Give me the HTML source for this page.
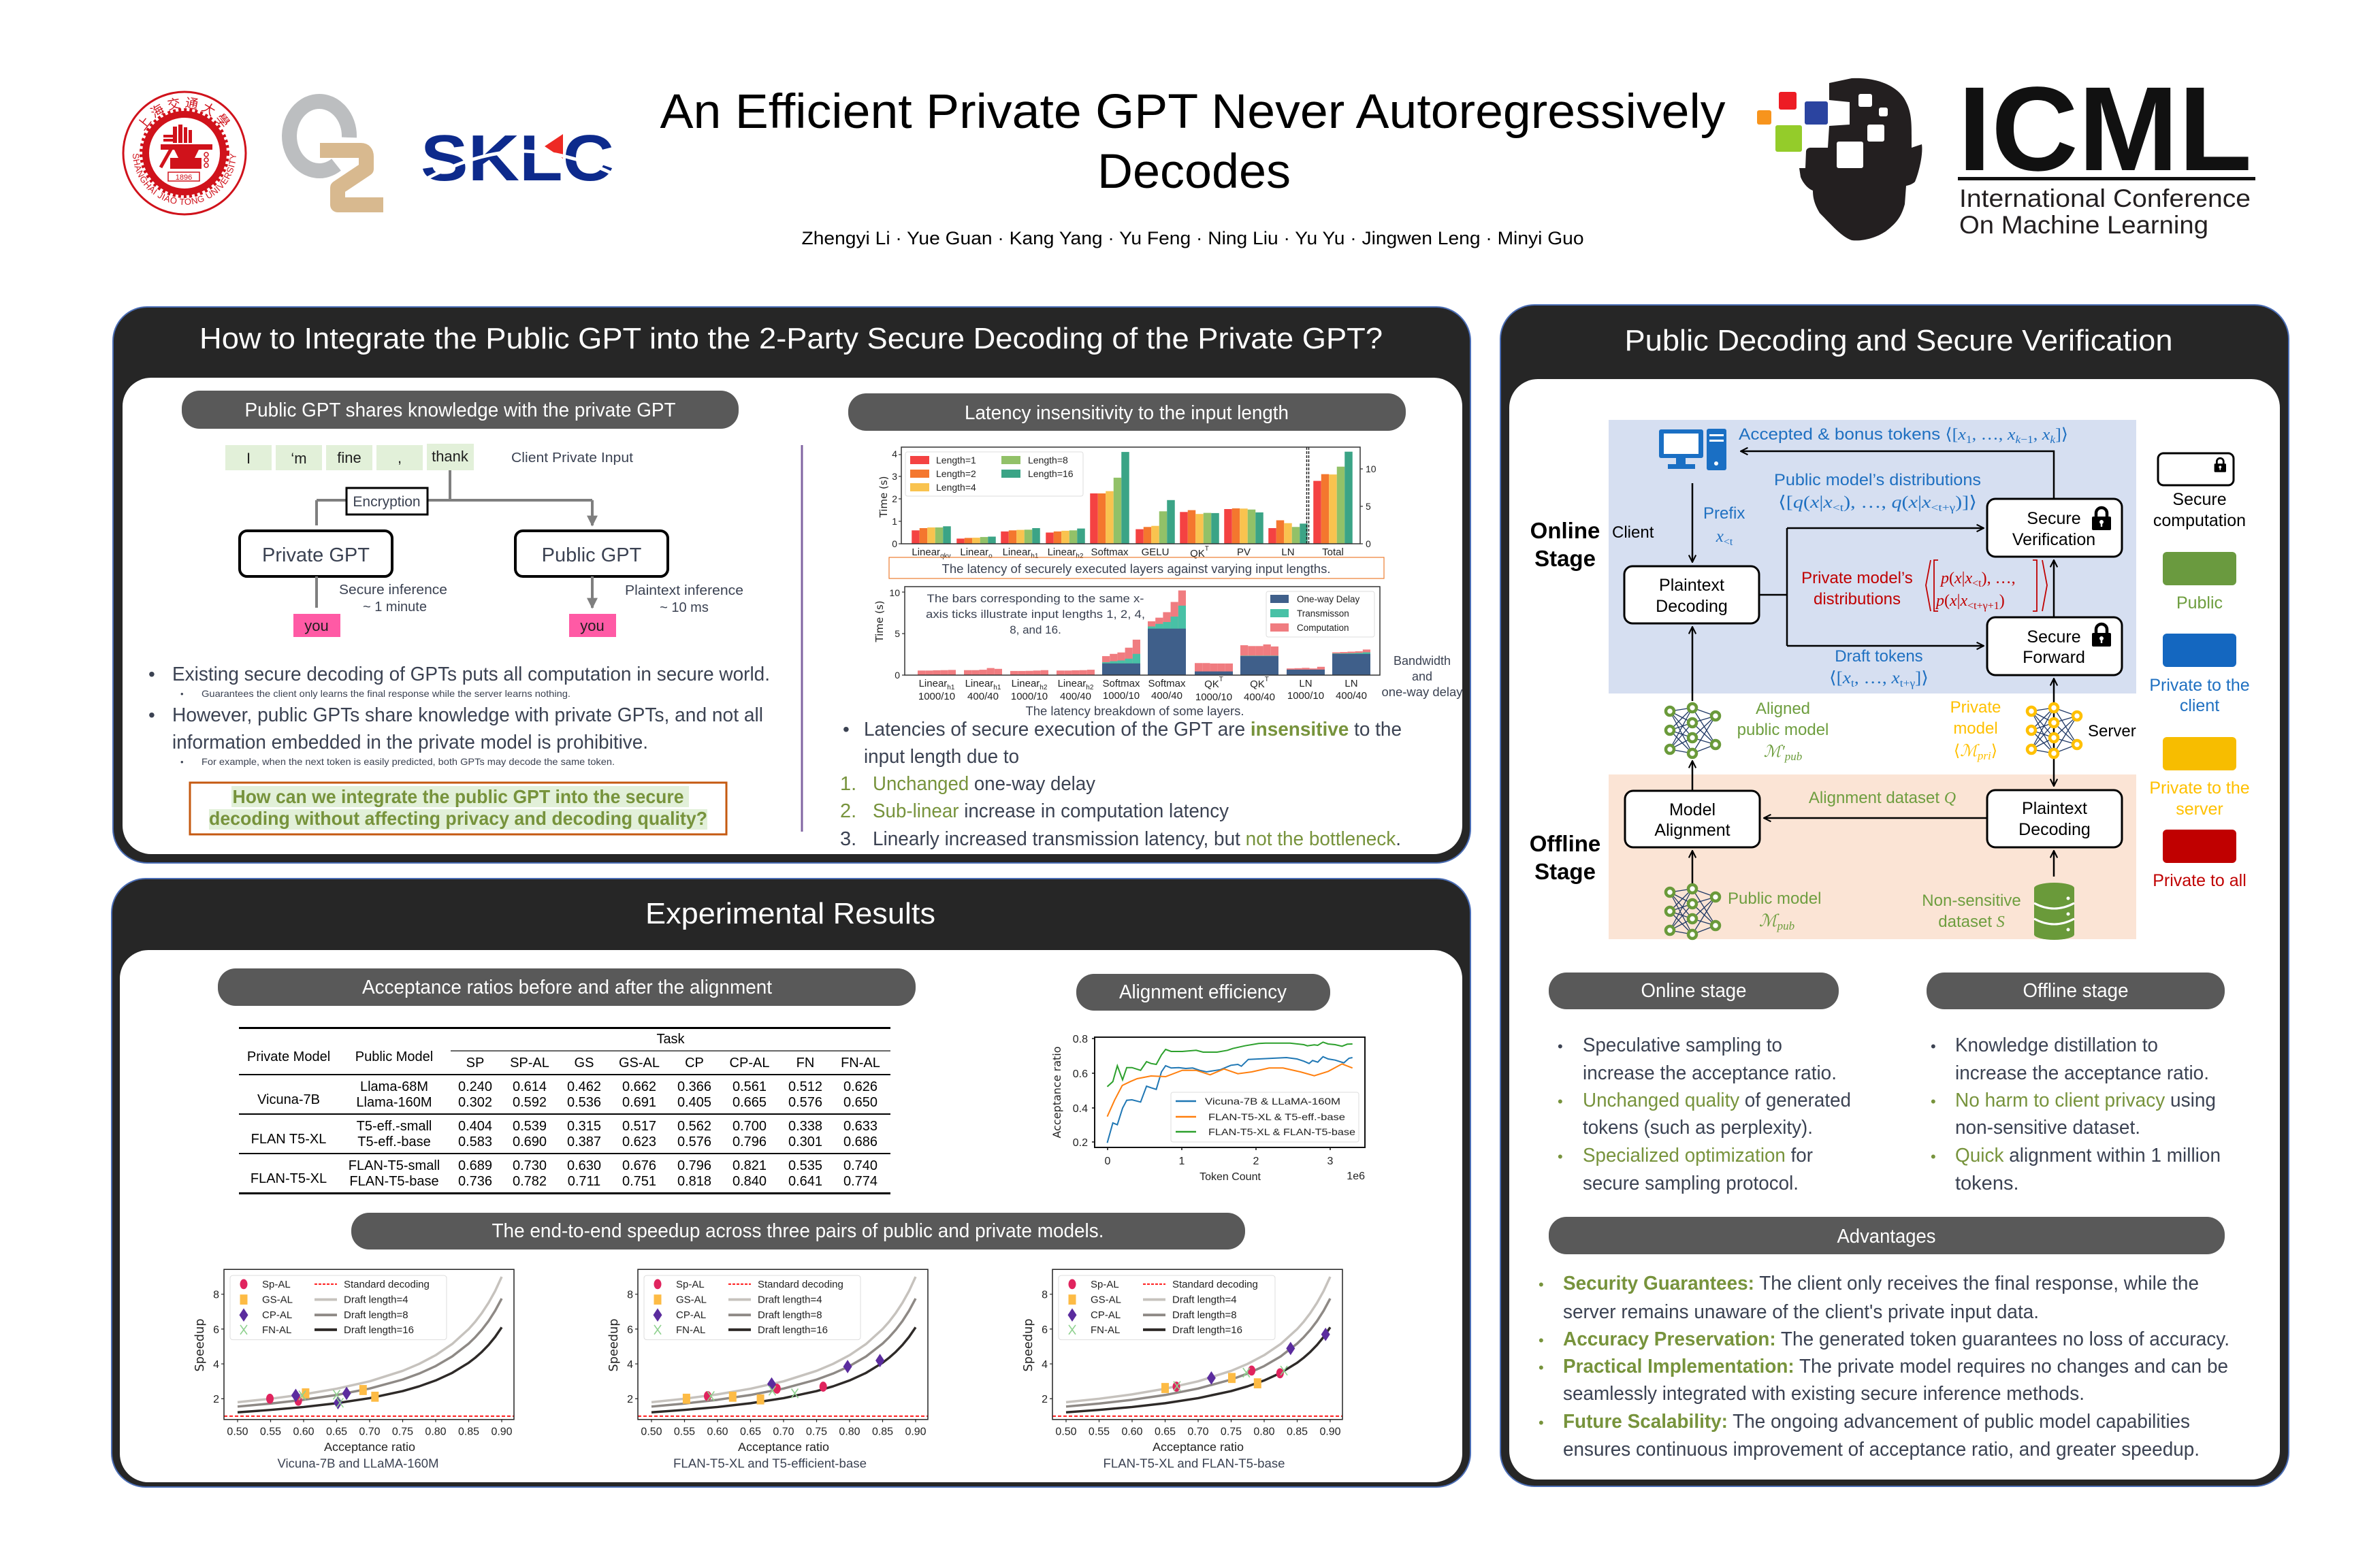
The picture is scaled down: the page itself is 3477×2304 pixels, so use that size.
<!DOCTYPE html>
<html><head><meta charset="utf-8">
<style>
html,body{margin:0;padding:0;background:#fff;}
svg{display:block;}
text{font-family:"Liberation Sans","DejaVu Sans",sans-serif;}
.s{font-family:"Liberation Serif","DejaVu Serif",serif;}
.d{font-family:"DejaVu Sans","Liberation Sans",sans-serif;}
.f1{fill:#f44242}.f2{fill:#f4772e}.f3{fill:#f9c34f}.f4{fill:#92c168}.f5{fill:#3ba486}
.pk{fill:#f07c80}.tl{fill:#48c1a6}.bl{fill:#3f5f8a}
.bt{fill:#3b4252}
.gr{fill:#77933c}
</style></head><body>
<svg xmlns="http://www.w3.org/2000/svg" xmlns:xlink="http://www.w3.org/1999/xlink" width="3477" height="2304" viewBox="0 0 3477 2304">
<defs>
<marker id="ab" viewBox="0 0 12 12" refX="11" refY="6" markerWidth="5" markerHeight="5" orient="auto-start-reverse"><path d="M1,1 L11,6 L1,11" fill="none" stroke="#000" stroke-width="2"/></marker>
<marker id="ag" viewBox="0 0 10 10" refX="9" refY="5" markerWidth="4" markerHeight="4" orient="auto"><path d="M0,0 L10,5 L0,10 Z" fill="#7f7f7f"/></marker>
<g id="nn">
<path d="M-33,5L0,0M-33,5L0,22M-33,5L0,44M-33,5L0,67M-33,33L0,0M-33,33L0,22M-33,33L0,44M-33,33L0,67M-33,61L0,0M-33,61L0,22M-33,61L0,44M-33,61L0,67M0,0L34,12M0,22L34,12M0,44L34,12M0,67L34,12M0,0L34,54M0,22L34,54M0,44L34,54M0,67L34,54" fill="none" stroke="#1f3864" stroke-width="1.3"/>
<g fill="#fff" stroke="currentColor" stroke-width="4.5">
<circle cx="-33" cy="5" r="6"/><circle cx="-33" cy="33" r="6"/><circle cx="-33" cy="61" r="6"/>
<circle cx="0" cy="0" r="6"/><circle cx="0" cy="22" r="6"/><circle cx="0" cy="44" r="6"/><circle cx="0" cy="67" r="6"/>
<circle cx="34" cy="12" r="6"/><circle cx="34" cy="54" r="6"/>
</g></g>
<ellipse id="mR" cx="0" cy="0" rx="5.5" ry="7.5" fill="#e0245e"/>
<rect id="mO" x="-5.5" y="-7.5" width="11" height="15" fill="#fdbb45"/>
<path id="mP" d="M0,-10L6.5,0L0,10L-6.5,0Z" fill="#5b2c9e"/>
<path id="mG" d="M-5,-7L5,7M-5,7L5,-7" stroke="#8fd18f" stroke-width="1.6" fill="none"/>
<g id="lock"><path d="M7,16 V10 A8,8 0 0 1 23,10 V16" fill="none" stroke="#000" stroke-width="4.5"/><rect x="1" y="15" width="28" height="20" rx="2" fill="#000"/><circle cx="15" cy="23" r="3" fill="#fff"/><rect x="13.8" y="23" width="2.4" height="7" fill="#fff"/></g>
</defs>

<!-- ================= HEADER ================= -->
<g>
<circle cx="271" cy="225" r="90" fill="#fff" stroke="#d0121b" stroke-width="3"/>
<path id="sjtop" d="M204,225 A67,67 0 0,1 338,225" fill="none"/>
<path id="sjbot" d="M195,225 A76,76 0 0,0 347,225" fill="none"/>
<text font-size="19" fill="#d0121b" letter-spacing="5" font-family="Liberation Serif, Noto Serif CJK SC, serif"><textPath href="#sjtop" startOffset="50%" text-anchor="middle">上海交通大學</textPath></text>
<text font-size="13" fill="#d0121b" letter-spacing="0.5"><textPath href="#sjbot" startOffset="50%" text-anchor="middle">SHANGHAI JIAO TONG UNIVERSITY</textPath></text>
<circle cx="271" cy="225" r="63" fill="none" stroke="#d0121b" stroke-width="6" stroke-dasharray="4 4"/>
<circle cx="271" cy="225" r="57" fill="#fff" stroke="#d0121b" stroke-width="10"/>
<g fill="#d0121b">
<rect x="240" y="198" width="14" height="4"/><rect x="240" y="204" width="14" height="4"/>
<rect x="254" y="186" width="6" height="24"/><rect x="262" y="183" width="6" height="27"/><rect x="270" y="187" width="5" height="23"/><rect x="277" y="191" width="5" height="19"/>
<path d="M236,212 H312 V220 H292 L286,232 H296 V248 H250 V232 H262 L256,220 H236 Z"/>
</g>
<path d="M236,246 L254,214" stroke="#d0121b" stroke-width="5"/>
<g fill="none" stroke="#d0121b" stroke-width="1.5"><circle cx="303" cy="227" r="3"/><circle cx="303" cy="235" r="3"/><circle cx="303" cy="243" r="3"/></g>
<rect x="247" y="253" width="46" height="13" fill="none" stroke="#d0121b" stroke-width="1.5"/>
<text x="270" y="264" font-size="11" fill="#d0121b" text-anchor="middle">1896</text>
</g>
<g>
<path d="M513,202 A44,51 0 1,0 494,242" fill="none" stroke="#bcbec0" stroke-width="22"/>
<path d="M470,221 H530 Q538,221 538,230 V248 L496,276 V301 H563" fill="none" stroke="#d8b98f" stroke-width="22" stroke-linejoin="round"/>
</g>
<g>
<text x="618" y="265" font-size="96" font-weight="bold" fill="#0d2a8c" textLength="284" lengthAdjust="spacingAndGlyphs">SKLC</text>
<path d="M827,197 L800,215 L827,233 Z" fill="#ee2a24"/>
<path d="M616,268 Q700,222 770,222 Q840,224 905,258" fill="none" stroke="#fff" stroke-width="5"/>
</g>
<text x="1752" y="188" font-size="71" text-anchor="middle" textLength="1565" lengthAdjust="spacingAndGlyphs" fill="#000">An Efficient Private GPT Never Autoregressively</text>
<text x="1754" y="276" font-size="71" text-anchor="middle" textLength="284" lengthAdjust="spacingAndGlyphs" fill="#000">Decodes</text>
<text x="1752" y="359" font-size="27" text-anchor="middle" textLength="1149" lengthAdjust="spacingAndGlyphs" fill="#000">Zhengyi Li · Yue Guan · Kang Yang · Yu Feng · Ning Liu · Yu Yu · Jingwen Leng · Minyi Guo</text>

<g>
<path d="M2687,122 L2720,115 C2760,113 2790,128 2800,150 C2808,165 2808,183 2808,200 L2808,217 L2823,212 C2825,225 2820,250 2813,267 C2808,272 2800,273 2800,273 L2798,300 C2793,318 2787,327 2770,340 C2755,350 2735,355 2720,353 C2705,348 2690,330 2673,313 C2665,300 2663,290 2663,280 C2655,277 2648,268 2645,260 L2643,247 L2652,247 L2653,222 C2654,218 2657,217 2660,217 L2685,217 L2687,185 L2717,183 L2717,150 L2687,147 Z" fill="#231f20"/>
<rect x="2730" y="138" width="20" height="19" rx="3" fill="#fff"/>
<rect x="2760" y="158" width="13" height="13" rx="3" fill="#fff"/>
<rect x="2743" y="183" width="25" height="25" rx="3" fill="#fff"/>
<rect x="2698" y="208" width="39" height="39" rx="3" fill="#fff"/>
<rect x="2613" y="135" width="26" height="26" rx="3" fill="#ed1c24"/>
<rect x="2651" y="149" width="34" height="34" rx="3" fill="#2b44a0"/>
<rect x="2581" y="162" width="21" height="21" rx="3" fill="#f7941d"/>
<rect x="2608" y="184" width="39" height="39" rx="3" fill="#94cc2a"/>
<text x="2876" y="250" font-family="Liberation Serif, serif" font-weight="bold" font-size="176" textLength="432" lengthAdjust="spacingAndGlyphs" fill="#111">ICML</text>
<rect x="2876" y="260" width="437" height="5" fill="#111"/>
<text x="2878" y="304" font-size="37" fill="#231f20" textLength="428" lengthAdjust="spacingAndGlyphs">International Conference</text>
<text x="2878" y="343" font-size="37" fill="#231f20" textLength="366" lengthAdjust="spacingAndGlyphs">On Machine Learning</text>
</g>

<!-- ================= LEFT TOP PANEL ================= -->
<rect x="166" y="451" width="1994" height="817" rx="50" fill="#262626" stroke="#4a6db5" stroke-width="2"/>
<rect x="180" y="555" width="1968" height="700" rx="42" fill="#fff"/>
<text x="1162" y="512" font-size="44" fill="#fff" text-anchor="middle" textLength="1738" lengthAdjust="spacingAndGlyphs">How to Integrate the Public GPT into the 2-Party Secure Decoding of the Private GPT?</text>

<rect x="267" y="574" width="818" height="56" rx="26" fill="#595959"/>
<text x="676" y="612" font-size="29" fill="#fff" text-anchor="middle" textLength="633" lengthAdjust="spacingAndGlyphs">Public GPT shares knowledge with the private GPT</text>

<g fill="#e2f0d9">
<rect x="331" y="654" width="68" height="37"/><rect x="405" y="654" width="68" height="37"/><rect x="479" y="654" width="68" height="37"/><rect x="553" y="654" width="68" height="37"/><rect x="627" y="652" width="69" height="39"/>
</g>
<g font-size="22" fill="#1f1f1f" text-anchor="middle">
<text x="365" y="681">I</text><text x="439" y="681">‘m</text><text x="513" y="680">fine</text><text x="587" y="680">,</text><text x="661" y="678">thank</text>
</g>
<text x="751" y="679" font-size="20" class="bt" textLength="179" lengthAdjust="spacingAndGlyphs">Client Private Input</text>
<path d="M661,691 V735 M465,735 H870" stroke="#7f7f7f" stroke-width="4" fill="none"/>
<path d="M465,735 V772 M870,735 V772" stroke="#7f7f7f" stroke-width="4" fill="none" marker-end="url(#ag)"/>
<rect x="509" y="717" width="119" height="39" fill="#fff" stroke="#000" stroke-width="3"/>
<text x="568" y="744" font-size="21" text-anchor="middle" class="bt">Encryption</text>
<rect x="352" y="780" width="224" height="67" rx="11" fill="#fff" stroke="#000" stroke-width="4"/>
<rect x="757" y="780" width="224" height="67" rx="11" fill="#fff" stroke="#000" stroke-width="4"/>
<text x="464" y="825" font-size="29" text-anchor="middle" class="bt">Private GPT</text>
<text x="869" y="825" font-size="29" text-anchor="middle" class="bt">Public GPT</text>
<path d="M465,847 V893 M870,847 V893" stroke="#7f7f7f" stroke-width="4" fill="none" marker-end="url(#ag)"/>
<rect x="431" y="902" width="69" height="34" fill="#ff5aa5"/>
<rect x="836" y="902" width="69" height="34" fill="#ff5aa5"/>
<text x="465" y="927" font-size="22" text-anchor="middle" fill="#1f1f1f">you</text>
<text x="870" y="927" font-size="22" text-anchor="middle" fill="#1f1f1f">you</text>
<text x="498" y="873" font-size="20" class="bt" textLength="159" lengthAdjust="spacingAndGlyphs">Secure inference</text>
<text x="580" y="898" font-size="20" class="bt" text-anchor="middle">~ 1 minute</text>
<text x="918" y="874" font-size="20" class="bt" textLength="174" lengthAdjust="spacingAndGlyphs">Plaintext inference</text>
<text x="1005" y="899" font-size="20" class="bt" text-anchor="middle">~ 10 ms</text>

<text x="218" y="1000" font-size="28" class="bt">•</text>
<text x="253" y="1000" font-size="29" class="bt" textLength="878" lengthAdjust="spacingAndGlyphs">Existing secure decoding of GPTs puts all computation in secure world.</text>
<text x="265" y="1024" font-size="13" class="bt">•</text>
<text x="296" y="1024" font-size="14" class="bt" textLength="542" lengthAdjust="spacingAndGlyphs">Guarantees the client only learns the final response while the server learns nothing.</text>
<text x="218" y="1060" font-size="28" class="bt">•</text>
<text x="253" y="1060" font-size="29" class="bt" textLength="868" lengthAdjust="spacingAndGlyphs">However, public GPTs share knowledge with private GPTs, and not all</text>
<text x="253" y="1100" font-size="29" class="bt" textLength="699" lengthAdjust="spacingAndGlyphs">information embedded in the private model is prohibitive.</text>
<text x="265" y="1124" font-size="13" class="bt">•</text>
<text x="296" y="1124" font-size="14" class="bt" textLength="607" lengthAdjust="spacingAndGlyphs">For example, when the next token is easily predicted, both GPTs may decode the same token.</text>

<rect x="279" y="1150" width="788" height="76" fill="#fff" stroke="#c55a11" stroke-width="3"/>
<rect x="340" y="1155" width="672" height="31" fill="#e2f0d9"/>
<rect x="307" y="1189" width="732" height="30" fill="#e2f0d9"/>
<text x="673" y="1180" font-size="28" font-weight="bold" class="gr" text-anchor="middle" textLength="663" lengthAdjust="spacingAndGlyphs">How can we integrate the public GPT into the secure</text>
<text x="673" y="1212" font-size="28" font-weight="bold" class="gr" text-anchor="middle" textLength="732" lengthAdjust="spacingAndGlyphs">decoding without affecting privacy and decoding quality?</text>

<rect x="1176.5" y="654" width="3" height="568" fill="#8064a2"/>

<rect x="1246" y="578" width="819" height="55" rx="26" fill="#595959"/>
<text x="1655" y="616" font-size="29" fill="#fff" text-anchor="middle" textLength="476" lengthAdjust="spacingAndGlyphs">Latency insensitivity to the input length</text>

<!-- Chart 1 -->
<g>
<g transform="translate(1339.25,799) scale(1,-1)"><rect class="f1" x="0" width="11.5" height="19.7"/><rect class="f2" x="11.5" width="11.5" height="23"/><rect class="f3" x="23" width="11.5" height="24"/><rect class="f4" x="34.5" width="11.5" height="24"/><rect class="f5" x="46" width="11.5" height="25.7"/></g>
<g transform="translate(1405.25,799) scale(1,-1)"><rect class="f1" x="0" width="11.5" height="7.6"/><rect class="f2" x="11.5" width="11.5" height="8.6"/><rect class="f3" x="23" width="11.5" height="8.9"/><rect class="f4" x="34.5" width="11.5" height="9.9"/><rect class="f5" x="46" width="11.5" height="10.5"/></g>
<g transform="translate(1470.25,799) scale(1,-1)"><rect class="f1" x="0" width="11.5" height="18.1"/><rect class="f2" x="11.5" width="11.5" height="19.7"/><rect class="f3" x="23" width="11.5" height="20.4"/><rect class="f4" x="34.5" width="11.5" height="20.7"/><rect class="f5" x="46" width="11.5" height="23"/></g>
<g transform="translate(1536.25,799) scale(1,-1)"><rect class="f1" x="0" width="11.5" height="16.5"/><rect class="f2" x="11.5" width="11.5" height="18.1"/><rect class="f3" x="23" width="11.5" height="19.1"/><rect class="f4" x="34.5" width="11.5" height="19.7"/><rect class="f5" x="46" width="11.5" height="22.4"/></g>
<g transform="translate(1601.25,799) scale(1,-1)"><rect class="f1" x="0" width="11.5" height="74"/><rect class="f2" x="11.5" width="11.5" height="74"/><rect class="f3" x="23" width="11.5" height="77.3"/><rect class="f4" x="34.5" width="11.5" height="97.1"/><rect class="f5" x="46" width="11.5" height="134.9"/></g>
<g transform="translate(1668.25,799) scale(1,-1)"><rect class="f1" x="0" width="11.5" height="21.4"/><rect class="f2" x="11.5" width="11.5" height="24.7"/><rect class="f3" x="23" width="11.5" height="26.3"/><rect class="f4" x="34.5" width="11.5" height="47.7"/><rect class="f5" x="46" width="11.5" height="64.2"/></g>
<g transform="translate(1733.25,799) scale(1,-1)"><rect class="f1" x="0" width="11.5" height="46.7"/><rect class="f2" x="11.5" width="11.5" height="49.4"/><rect class="f3" x="23" width="11.5" height="43.8"/><rect class="f4" x="34.5" width="11.5" height="45.4"/><rect class="f5" x="46" width="11.5" height="45.1"/></g>
<g transform="translate(1798.25,799) scale(1,-1)"><rect class="f1" x="0" width="11.5" height="51"/><rect class="f2" x="11.5" width="11.5" height="52"/><rect class="f3" x="23" width="11.5" height="51.7"/><rect class="f4" x="34.5" width="11.5" height="50.3"/><rect class="f5" x="46" width="11.5" height="46.1"/></g>
<g transform="translate(1863.25,799) scale(1,-1)"><rect class="f1" x="0" width="11.5" height="23"/><rect class="f2" x="11.5" width="11.5" height="34.5"/><rect class="f3" x="23" width="11.5" height="30.3"/><rect class="f4" x="34.5" width="11.5" height="24.7"/><rect class="f5" x="46" width="11.5" height="29.6"/></g>
<g transform="translate(1929.25,799) scale(1,-1)"><rect class="f1" x="0" width="11.5" height="92.4"/><rect class="f2" x="11.5" width="11.5" height="102.3"/><rect class="f3" x="23" width="11.5" height="101.8"/><rect class="f4" x="34.5" width="11.5" height="113.3"/><rect class="f5" x="46" width="11.5" height="135.3"/></g>
<path d="M1919.5,657 V799 M1922.5,657 V799" stroke="#222" stroke-width="1.5" stroke-dasharray="4,2"/>
<rect x="1324" y="657" width="674" height="142" fill="none" stroke="#333" stroke-width="1.5"/>
<rect x="1330" y="664" width="261" height="65" rx="3" fill="#fff" fill-opacity="0.9" stroke="#ddd"/>
<rect class="f1" x="1337" y="670" width="28" height="12"/><rect class="f2" x="1337" y="690" width="28" height="12"/><rect class="f3" x="1337" y="710" width="28" height="12"/>
<rect class="f4" x="1471" y="670" width="28" height="12"/><rect class="f5" x="1471" y="690" width="28" height="12"/>
<g class="d" font-size="14" fill="#222">
<text x="1375" y="681">Length=1</text><text x="1375" y="701">Length=2</text><text x="1375" y="721">Length=4</text>
<text x="1510" y="681">Length=8</text><text x="1510" y="701">Length=16</text>
<text x="1318" y="804" text-anchor="end">0</text><text x="1318" y="771" text-anchor="end">1</text><text x="1318" y="738" text-anchor="end">2</text><text x="1318" y="705" text-anchor="end">3</text><text x="1318" y="672" text-anchor="end">4</text>
<text x="2006" y="804">0</text><text x="2006" y="749">5</text><text x="2006" y="694">10</text>
</g>
<path d="M1320,799h4M1320,766h4M1320,733h4M1320,700h4M1320,668h4M1998,799h4M1998,744h4M1998,689h4" stroke="#333" stroke-width="1.2"/>
<text transform="translate(1303,730) rotate(-90)" class="d" font-size="15" text-anchor="middle" fill="#222">Time (s)</text>
<g class="d" font-size="15" fill="#222" text-anchor="middle">
<text x="1368" y="816">Linear<tspan font-size="10" dy="4">qkv</tspan></text>
<text x="1434" y="816">Linear<tspan font-size="10" dy="4">o</tspan></text>
<text x="1499" y="816">Linear<tspan font-size="10" dy="4">h1</tspan></text>
<text x="1565" y="816">Linear<tspan font-size="10" dy="4">h2</tspan></text>
<text x="1630" y="816">Softmax</text><text x="1697" y="816">GELU</text>
<text x="1762" y="818">QK<tspan font-size="10" dy="-9">T</tspan></text>
<text x="1827" y="816">PV</text><text x="1892" y="816">LN</text><text x="1958" y="816">Total</text>
</g>
<rect x="1306" y="819" width="727" height="31" fill="none" stroke="#ed7d31" stroke-width="1.2"/>
<text x="1669" y="842" font-size="18" text-anchor="middle" class="bt" textLength="571" lengthAdjust="spacingAndGlyphs">The latency of securely executed layers against varying input lengths.</text>
</g>

<!-- Chart 2 -->
<g>
<g transform="translate(1348,992) scale(1,-1)" class="pk"><rect x="0" width="11.2" height="6.7"/><rect x="11.2" width="11.2" height="6.7"/><rect x="22.4" width="11.2" height="7.1"/><rect x="33.6" width="11.2" height="7.3"/><rect x="44.8" width="11.2" height="7.6"/></g>
<g transform="translate(1416,992) scale(1,-1)" class="pk"><rect x="0" width="11.2" height="7.3"/><rect x="11.2" width="11.2" height="7.3"/><rect x="22.4" width="11.2" height="7.9"/><rect x="33.6" width="11.2" height="10.4"/><rect x="44.8" width="11.2" height="9.2"/></g>
<g transform="translate(1484,992) scale(1,-1)" class="pk"><rect x="0" width="11.2" height="6.1"/><rect x="11.2" width="11.2" height="6.1"/><rect x="22.4" width="11.2" height="6.3"/><rect x="33.6" width="11.2" height="6.7"/><rect x="44.8" width="11.2" height="7.3"/></g>
<g transform="translate(1552,992) scale(1,-1)" class="pk"><rect x="0" width="11.2" height="6.7"/><rect x="11.2" width="11.2" height="6.7"/><rect x="22.4" width="11.2" height="7.1"/><rect x="33.6" width="11.2" height="7.3"/><rect x="44.8" width="11.2" height="7.9"/></g>
<g transform="translate(1619,992) scale(1,-1)">
<rect class="pk" x="0" width="11.2" height="27.9"/><rect class="pk" x="11.2" width="11.2" height="31.2"/><rect class="pk" x="22.4" width="11.2" height="33.3"/><rect class="pk" x="33.6" width="11.2" height="40.3"/><rect class="pk" x="44.8" width="11.2" height="52.1"/>
<rect class="tl" x="0" width="11.2" height="18.9"/><rect class="tl" x="11.2" width="11.2" height="20.4"/><rect class="tl" x="22.4" width="11.2" height="21.5"/><rect class="tl" x="33.6" width="11.2" height="24.2"/><rect class="tl" x="44.8" width="11.2" height="31.2"/>
<rect class="bl" x="0" width="56" height="17.2"/></g>
<g transform="translate(1686,992) scale(1,-1)">
<rect class="pk" x="0" width="11.2" height="79.1"/><rect class="pk" x="11.2" width="11.2" height="84.4"/><rect class="pk" x="22.4" width="11.2" height="92.5"/><rect class="pk" x="33.6" width="11.2" height="107.5"/><rect class="pk" x="44.8" width="11.2" height="124.4"/>
<rect class="tl" x="0" width="11.2" height="71.5"/><rect class="tl" x="11.2" width="11.2" height="75.3"/><rect class="tl" x="22.4" width="11.2" height="78"/><rect class="tl" x="33.6" width="11.2" height="86"/><rect class="tl" x="44.8" width="11.2" height="102.1"/>
<rect class="bl" x="0" width="56" height="68.3"/></g>
<g transform="translate(1755,992) scale(1,-1)">
<rect class="pk" x="0" width="11.2" height="17.7"/><rect class="pk" x="11.2" width="11.2" height="17.7"/><rect class="pk" x="22.4" width="11.2" height="17.1"/><rect class="pk" x="33.6" width="11.2" height="17.1"/><rect class="pk" x="44.8" width="11.2" height="17.1"/>
<rect class="bl" x="0" width="56" height="5.4"/></g>
<g transform="translate(1822,992) scale(1,-1)">
<rect class="pk" x="0" width="11.2" height="43.9"/><rect class="pk" x="11.2" width="11.2" height="42.7"/><rect class="pk" x="22.4" width="11.2" height="42.7"/><rect class="pk" x="33.6" width="11.2" height="45.1"/><rect class="pk" x="44.8" width="11.2" height="42.1"/>
<rect class="tl" x="0" width="56" height="28.5"/><rect class="bl" x="0" width="56" height="27.9"/></g>
<g transform="translate(1890,992) scale(1,-1)">
<rect class="pk" x="0" width="11.2" height="9.8"/><rect class="pk" x="11.2" width="11.2" height="10.2"/><rect class="pk" x="22.4" width="11.2" height="10.7"/><rect class="pk" x="33.6" width="11.2" height="9.8"/><rect class="pk" x="44.8" width="11.2" height="12.2"/>
<rect class="bl" x="0" width="56" height="8.1"/></g>
<g transform="translate(1957,992) scale(1,-1)">
<rect class="pk" x="0" width="11.2" height="33.5"/><rect class="pk" x="11.2" width="11.2" height="33.9"/><rect class="pk" x="22.4" width="11.2" height="34.5"/><rect class="pk" x="33.6" width="11.2" height="35"/><rect class="pk" x="44.8" width="11.2" height="37.6"/>
<rect class="tl" x="0" width="11.2" height="31.8"/><rect class="tl" x="11.2" width="11.2" height="31.9"/><rect class="tl" x="22.4" width="11.2" height="32.2"/><rect class="tl" x="33.6" width="11.2" height="32.6"/><rect class="tl" x="44.8" width="11.2" height="33.5"/>
<rect class="bl" x="0" width="56" height="31.2"/></g>
<rect x="1329" y="862" width="698" height="130" fill="none" stroke="#333" stroke-width="1.5"/>
<path d="M1325,992h4M1325,931h4M1325,870h4" stroke="#333" stroke-width="1.2"/>
<g class="d" font-size="14" fill="#222" text-anchor="end"><text x="1322" y="997">0</text><text x="1322" y="936">5</text><text x="1322" y="876">10</text></g>
<text transform="translate(1297,913) rotate(-90)" class="d" font-size="15" text-anchor="middle" fill="#222">Time (s)</text>
<rect x="1860" y="869" width="159" height="67" rx="3" fill="#fff" stroke="#ddd"/>
<rect class="bl" x="1866" y="874" width="27" height="12"/><rect class="tl" x="1866" y="895" width="27" height="12"/><rect class="pk" x="1866" y="916" width="27" height="12"/>
<g class="d" font-size="13.5" fill="#222"><text x="1905" y="885">One-way Delay</text><text x="1905" y="906">Transmisson</text><text x="1905" y="927">Computation</text></g>
<g font-size="17" class="bt" text-anchor="middle">
<text x="1521" y="885" textLength="319" lengthAdjust="spacingAndGlyphs">The bars corresponding to the same x-</text>
<text x="1521" y="908" textLength="322" lengthAdjust="spacingAndGlyphs">axis ticks illustrate input lengths 1, 2, 4,</text>
<text x="1521" y="931">8, and 16.</text>
</g>
<g class="d" font-size="15" fill="#222" text-anchor="middle">
<text x="1376" y="1009">Linear<tspan font-size="10" dy="4">h1</tspan></text>
<text x="1444" y="1009">Linear<tspan font-size="10" dy="4">h1</tspan></text>
<text x="1512" y="1009">Linear<tspan font-size="10" dy="4">h2</tspan></text>
<text x="1580" y="1009">Linear<tspan font-size="10" dy="4">h2</tspan></text>
<text x="1647" y="1009">Softmax</text><text x="1714" y="1009">Softmax</text>
<text x="1783" y="1010">QK<tspan font-size="10" dy="-9">T</tspan></text>
<text x="1850" y="1010">QK<tspan font-size="10" dy="-9">T</tspan></text>
<text x="1918" y="1009">LN</text><text x="1985" y="1009">LN</text>
<text x="1376" y="1028">1000/10</text><text x="1444" y="1028">400/40</text><text x="1512" y="1028">1000/10</text><text x="1580" y="1028">400/40</text><text x="1647" y="1027">1000/10</text><text x="1714" y="1027">400/40</text><text x="1783" y="1029">1000/10</text><text x="1850" y="1029">400/40</text><text x="1918" y="1027">1000/10</text><text x="1985" y="1027">400/40</text>
</g>
<text x="1667" y="1051" font-size="18" class="bt" text-anchor="middle" textLength="321" lengthAdjust="spacingAndGlyphs">The latency breakdown of some layers.</text>
<g font-size="18" class="bt" text-anchor="middle"><text x="2089" y="977">Bandwidth</text><text x="2089" y="1000">and</text><text x="2089" y="1023" textLength="119" lengthAdjust="spacingAndGlyphs">one-way delay</text></g>
</g>

<text x="1238" y="1081" font-size="28" class="bt">•</text>
<text x="1269" y="1081" font-size="29" class="bt" textLength="790" lengthAdjust="spacingAndGlyphs">Latencies of secure execution of the GPT are <tspan font-weight="bold" class="gr">insensitive</tspan> to the</text>
<text x="1269" y="1121" font-size="29" class="bt" textLength="228" lengthAdjust="spacingAndGlyphs">input length due to</text>
<text x="1234" y="1161" font-size="29" class="gr">1.</text>
<text x="1282" y="1161" font-size="29" class="bt" textLength="327" lengthAdjust="spacingAndGlyphs"><tspan class="gr">Unchanged</tspan> one-way delay</text>
<text x="1234" y="1201" font-size="29" class="gr">2.</text>
<text x="1282" y="1201" font-size="29" class="bt" textLength="523" lengthAdjust="spacingAndGlyphs"><tspan class="gr">Sub-linear</tspan> increase in computation latency</text>
<text x="1234" y="1242" font-size="29" class="bt">3.</text>
<text x="1282" y="1242" font-size="29" class="bt" textLength="776" lengthAdjust="spacingAndGlyphs">Linearly increased transmission latency, but <tspan class="gr">not the bottleneck</tspan>.</text>

<!-- ================= EXPERIMENTAL RESULTS ================= -->
<rect x="164" y="1291" width="1996" height="894" rx="50" fill="#262626" stroke="#4a6db5" stroke-width="2"/>
<rect x="176" y="1396" width="1972" height="782" rx="42" fill="#fff"/>
<text x="1161" y="1357" font-size="44" fill="#fff" text-anchor="middle" textLength="426" lengthAdjust="spacingAndGlyphs">Experimental Results</text>

<rect x="320" y="1423" width="1025" height="55" rx="26" fill="#595959"/>
<text x="833" y="1460" font-size="29" fill="#fff" text-anchor="middle" textLength="602" lengthAdjust="spacingAndGlyphs">Acceptance ratios before and after the alignment</text>

<g class="s" font-size="20" fill="#000" text-anchor="middle">
<rect x="351" y="1509" width="957" height="3" fill="#000"/>
<rect x="662" y="1543.5" width="646" height="1.2" fill="#000"/>
<rect x="351" y="1578" width="957" height="2" fill="#000"/>
<rect x="351" y="1636" width="957" height="2" fill="#000"/>
<rect x="351" y="1694" width="957" height="2" fill="#000"/>
<rect x="351" y="1752" width="957" height="3" fill="#000"/>
<text x="985" y="1533">Task</text>
<text x="424" y="1559">Private Model</text><text x="579" y="1559">Public Model</text>
<text y="1568"><tspan x="698">SP</tspan><tspan x="778">SP-AL</tspan><tspan x="858">GS</tspan><tspan x="939">GS-AL</tspan><tspan x="1020">CP</tspan><tspan x="1101">CP-AL</tspan><tspan x="1183">FN</tspan><tspan x="1264">FN-AL</tspan></text>
<text x="424" y="1622">Vicuna-7B</text>
<text x="424" y="1680">FLAN T5-XL</text>
<text x="424" y="1738">FLAN-T5-XL</text>
<text y="1603"><tspan x="579">Llama-68M</tspan><tspan x="698">0.240</tspan><tspan x="778">0.614</tspan><tspan x="858">0.462</tspan><tspan x="939">0.662</tspan><tspan x="1020">0.366</tspan><tspan x="1101">0.561</tspan><tspan x="1183">0.512</tspan><tspan x="1264">0.626</tspan></text>
<text y="1626"><tspan x="579">Llama-160M</tspan><tspan x="698">0.302</tspan><tspan x="778">0.592</tspan><tspan x="858">0.536</tspan><tspan x="939">0.691</tspan><tspan x="1020">0.405</tspan><tspan x="1101">0.665</tspan><tspan x="1183">0.576</tspan><tspan x="1264">0.650</tspan></text>
<text y="1661"><tspan x="579">T5-eff.-small</tspan><tspan x="698">0.404</tspan><tspan x="778">0.539</tspan><tspan x="858">0.315</tspan><tspan x="939">0.517</tspan><tspan x="1020">0.562</tspan><tspan x="1101">0.700</tspan><tspan x="1183">0.338</tspan><tspan x="1264">0.633</tspan></text>
<text y="1684"><tspan x="579">T5-eff.-base</tspan><tspan x="698">0.583</tspan><tspan x="778">0.690</tspan><tspan x="858">0.387</tspan><tspan x="939">0.623</tspan><tspan x="1020">0.576</tspan><tspan x="1101">0.796</tspan><tspan x="1183">0.301</tspan><tspan x="1264">0.686</tspan></text>
<text y="1719"><tspan x="579">FLAN-T5-small</tspan><tspan x="698">0.689</tspan><tspan x="778">0.730</tspan><tspan x="858">0.630</tspan><tspan x="939">0.676</tspan><tspan x="1020">0.796</tspan><tspan x="1101">0.821</tspan><tspan x="1183">0.535</tspan><tspan x="1264">0.740</tspan></text>
<text y="1742"><tspan x="579">FLAN-T5-base</tspan><tspan x="698">0.736</tspan><tspan x="778">0.782</tspan><tspan x="858">0.711</tspan><tspan x="939">0.751</tspan><tspan x="1020">0.818</tspan><tspan x="1101">0.840</tspan><tspan x="1183">0.641</tspan><tspan x="1264">0.774</tspan></text>
</g>

<rect x="1581" y="1431" width="373" height="54" rx="26" fill="#595959"/>
<text x="1767" y="1467" font-size="29" fill="#fff" text-anchor="middle" textLength="246" lengthAdjust="spacingAndGlyphs">Alignment efficiency</text>

<!-- Alignment chart -->
<g>
<polyline points="1626.5,1596.7 1634.7,1589.3 1641.3,1566 1649,1586.7 1655.1,1568.7 1662.8,1568.7 1675.5,1572.7 1684.2,1560 1690.8,1562.7 1698.5,1564 1706.1,1550 1712.2,1542 1720.4,1545 1736.7,1545 1757.1,1543.3 1767.3,1546 1787.8,1546 1803.1,1543.3 1810.7,1540.7 1828.6,1536.7 1849,1533.3 1859.2,1532.7 1894.9,1532.7 1915.3,1535 1920.4,1536.7 1930.6,1535.3 1935.7,1536 1943.4,1531.3 1951,1534 1961.2,1535 1971.4,1537.3 1979.1,1534.3 1986.7,1534" fill="none" stroke="#2ca02c" stroke-width="2"/>
<polyline points="1626.5,1679.3 1634.7,1650 1641.3,1652.7 1649,1628.3 1655.1,1616.7 1662.8,1616 1675.5,1619.3 1684.2,1596 1690.8,1598.3 1698.5,1600.7 1706.1,1575 1712.2,1566 1720.4,1569.3 1731.6,1568.7 1741.8,1570 1752,1569.3 1762.2,1572.7 1772.4,1575 1782.7,1573.3 1792.9,1571.7 1808.2,1565.3 1818.4,1564 1823.5,1566.7 1833.7,1556.7 1849,1556 1869.4,1555 1889.8,1554 1905.1,1556 1915.3,1559.3 1923,1562.7 1928.1,1558.3 1935.7,1560.7 1943.4,1552.7 1951,1556 1961.2,1557.7 1974,1561.7 1981.6,1555 1986.7,1554" fill="none" stroke="#1f77b4" stroke-width="2"/>
<polyline points="1626.5,1640.7 1637.2,1616.7 1648.5,1595 1660.2,1589.3 1670.4,1585 1690.8,1581 1712.2,1582 1736.7,1572.7 1757.1,1572.7 1777.6,1579.3 1798,1570.7 1818.4,1577.7 1838.8,1575 1864.3,1569.3 1884.7,1569.3 1910.2,1575 1930.6,1580.7 1951,1574.3 1971.4,1563.3 1986.7,1569.3" fill="none" stroke="#ff7f0e" stroke-width="2"/>
<rect x="1608" y="1524" width="397" height="162" fill="none" stroke="#111" stroke-width="2"/>
<rect x="1720" y="1605" width="276" height="73" rx="3" fill="#fff" fill-opacity="0.9" stroke="#ddd"/>
<path d="M1727,1618h30" stroke="#1f77b4" stroke-width="2.5"/><path d="M1727,1641h30" stroke="#ff7f0e" stroke-width="2.5"/><path d="M1727,1663h30" stroke="#2ca02c" stroke-width="2.5"/>
<g class="d" font-size="14" fill="#222">
<text x="1770" y="1623" textLength="199" lengthAdjust="spacingAndGlyphs">Vicuna-7B &amp; LLaMA-160M</text>
<text x="1775" y="1646" textLength="201" lengthAdjust="spacingAndGlyphs">FLAN-T5-XL &amp; T5-eff.-base</text>
<text x="1775" y="1668" textLength="216" lengthAdjust="spacingAndGlyphs">FLAN-T5-XL &amp; FLAN-T5-base</text>
</g>
<path d="M1604,1526h4M1604,1577h4M1604,1628h4M1604,1678h4M1627,1686v4M1736,1686v4M1845,1686v4M1954,1686v4" stroke="#111" stroke-width="1.5"/>
<g class="d" font-size="16" fill="#222">
<text x="1598" y="1532" text-anchor="end">0.8</text><text x="1598" y="1583" text-anchor="end">0.6</text><text x="1598" y="1634" text-anchor="end">0.4</text><text x="1598" y="1684" text-anchor="end">0.2</text>
<text y="1711" text-anchor="middle"><tspan x="1627">0</tspan><tspan x="1736">1</tspan><tspan x="1845">2</tspan><tspan x="1954">3</tspan></text>
<text x="1807" y="1734" text-anchor="middle">Token Count</text>
<text x="2005" y="1733" text-anchor="end">1e6</text>
</g>
<text transform="translate(1558,1605) rotate(-90)" class="d" font-size="16" fill="#222" text-anchor="middle">Acceptance ratio</text>
</g>

<rect x="516" y="1782" width="1313" height="54" rx="26" fill="#595959"/>
<text x="1172" y="1818" font-size="29" fill="#fff" text-anchor="middle" textLength="899" lengthAdjust="spacingAndGlyphs">The end-to-end speedup across three pairs of public and private models.</text>

<!-- Speedup chart 1 -->
<g transform="translate(0,27) scale(1,0.9846)">
<path d="M329,2086H755" stroke="#ff1a1a" stroke-width="2" stroke-dasharray="5,3"/>
<polyline points="349,2065.2 397.5,2060 446,2053.5 494.5,2045.1 543,2034 591.5,2018.4 615.75,2008 640,1995 664.25,1978.3 688.5,1956 698.2,1944.9 707.9,1932 717.6,1917 727.3,1899.3 737,1878" fill="none" stroke="#c6c2bd" stroke-width="3.5" stroke-linejoin="round"/>
<polyline points="349,2071.7 397.5,2067.2 446,2061.6 494.5,2054.4 543,2044.8 591.5,2031.4 615.75,2022.4 640,2011.25 664.25,1996.9 688.5,1977.7 698.2,1968.1 707.9,1957 717.6,1944.1 727.3,1928.8 737,1910.5" fill="none" stroke="#8e8985" stroke-width="3.5" stroke-linejoin="round"/>
<polyline points="349,2080.3 397.5,2076.7 446,2072.35 494.5,2066.7 543,2059.1 591.5,2048.6 615.75,2041.5 640,2032.7 664.25,2021.4 688.5,2006.3 698.2,1998.7 707.9,1990 717.6,1979.8 727.3,1967.8 737,1953.4" fill="none" stroke="#2e2a28" stroke-width="3.5" stroke-linejoin="round"/>
<use href="#mR" x="396.5" y="2060"/><use href="#mR" x="438.2" y="2063"/>
<use href="#mO" x="448.9" y="2052"/><use href="#mO" x="533.3" y="2047"/><use href="#mO" x="550.8" y="2057"/>
<use href="#mP" x="434.4" y="2055"/><use href="#mP" x="509.1" y="2052"/><use href="#mP" x="496.4" y="2066"/>
<use href="#mG" x="494.5" y="2054"/><use href="#mG" x="499.4" y="2066"/><use href="#mG" x="444" y="2055"/>
<rect x="329" y="1867" width="426" height="224" fill="none" stroke="#222" stroke-width="1.5"/>
<rect x="338" y="1876" width="318" height="96" rx="4" fill="#fff" fill-opacity="0.85" stroke="#ddd"/>
<use href="#mR" x="358" y="1889"/><use href="#mO" x="358" y="1912"/><use href="#mP" x="358" y="1935"/><use href="#mG" x="358" y="1957"/>
<path d="M462,1889h33" stroke="#ff1a1a" stroke-width="2" stroke-dasharray="4,2"/>
<path d="M462,1912h33" stroke="#c6c2bd" stroke-width="4"/><path d="M462,1935h33" stroke="#8e8985" stroke-width="4"/><path d="M462,1957h33" stroke="#2e2a28" stroke-width="4"/>
<g class="d" font-size="15" fill="#222">
<text x="385" y="1894">Sp-AL</text><text x="385" y="1917">GS-AL</text><text x="385" y="1940">CP-AL</text><text x="385" y="1962">FN-AL</text>
<text x="505" y="1894">Standard decoding</text><text x="505" y="1917">Draft length=4</text><text x="505" y="1940">Draft length=8</text><text x="505" y="1962">Draft length=16</text>
</g>
<path d="M325,1904h4M325,1956h4M325,2008h4M325,2060h4M349,2091v4M397.5,2091v4M446,2091v4M494.5,2091v4M543,2091v4M591.5,2091v4M640,2091v4M688.5,2091v4M737,2091v4" stroke="#222" stroke-width="1.2"/>
<g class="d" font-size="16" fill="#222">
<text x="322" y="1910" text-anchor="end">8</text><text x="322" y="1962" text-anchor="end">6</text><text x="322" y="2014" text-anchor="end">4</text><text x="322" y="2066" text-anchor="end">2</text>
<text y="2114" text-anchor="middle"><tspan x="349">0.50</tspan><tspan x="397.5">0.55</tspan><tspan x="446">0.60</tspan><tspan x="494.5">0.65</tspan><tspan x="543">0.70</tspan><tspan x="591.5">0.75</tspan><tspan x="640">0.80</tspan><tspan x="688.5">0.85</tspan><tspan x="737">0.90</tspan></text>
<text x="543" y="2138" text-anchor="middle" font-size="18">Acceptance ratio</text>
</g>
<text transform="translate(299,1980) rotate(-90)" class="d" font-size="18" fill="#222" text-anchor="middle">Speedup</text>
<text x="526" y="2163" font-size="19" class="bt" text-anchor="middle" textLength="237" lengthAdjust="spacingAndGlyphs">Vicuna-7B and LLaMA-160M</text>
</g>

<!-- Speedup chart 2 -->
<g transform="translate(608,27) scale(1,0.9846)">
<path d="M329,2086H755" stroke="#ff1a1a" stroke-width="2" stroke-dasharray="5,3"/>
<polyline points="349,2065.2 397.5,2060 446,2053.5 494.5,2045.1 543,2034 591.5,2018.4 615.75,2008 640,1995 664.25,1978.3 688.5,1956 698.2,1944.9 707.9,1932 717.6,1917 727.3,1899.3 737,1878" fill="none" stroke="#c6c2bd" stroke-width="3.5" stroke-linejoin="round"/>
<polyline points="349,2071.7 397.5,2067.2 446,2061.6 494.5,2054.4 543,2044.8 591.5,2031.4 615.75,2022.4 640,2011.25 664.25,1996.9 688.5,1977.7 698.2,1968.1 707.9,1957 717.6,1944.1 727.3,1928.8 737,1910.5" fill="none" stroke="#8e8985" stroke-width="3.5" stroke-linejoin="round"/>
<polyline points="349,2080.3 397.5,2076.7 446,2072.35 494.5,2066.7 543,2059.1 591.5,2048.6 615.75,2041.5 640,2032.7 664.25,2021.4 688.5,2006.3 698.2,1998.7 707.9,1990 717.6,1979.8 727.3,1967.8 737,1953.4" fill="none" stroke="#2e2a28" stroke-width="3.5" stroke-linejoin="round"/>
<use href="#mO" x="400.4" y="2060"/><use href="#mO" x="468.3" y="2057"/><use href="#mO" x="509.1" y="2061"/>
<use href="#mR" x="431.5" y="2056"/><use href="#mR" x="533.3" y="2045"/><use href="#mR" x="601.2" y="2042"/>
<use href="#mP" x="525.5" y="2038"/><use href="#mP" x="637.1" y="2012"/><use href="#mP" x="684.6" y="2003"/>
<use href="#mG" x="526.5" y="2048"/><use href="#mG" x="559.5" y="2052"/><use href="#mG" x="436.3" y="2056"/>
<rect x="329" y="1867" width="426" height="224" fill="none" stroke="#222" stroke-width="1.5"/>
<rect x="338" y="1876" width="318" height="96" rx="4" fill="#fff" fill-opacity="0.85" stroke="#ddd"/>
<use href="#mR" x="358" y="1889"/><use href="#mO" x="358" y="1912"/><use href="#mP" x="358" y="1935"/><use href="#mG" x="358" y="1957"/>
<path d="M462,1889h33" stroke="#ff1a1a" stroke-width="2" stroke-dasharray="4,2"/>
<path d="M462,1912h33" stroke="#c6c2bd" stroke-width="4"/><path d="M462,1935h33" stroke="#8e8985" stroke-width="4"/><path d="M462,1957h33" stroke="#2e2a28" stroke-width="4"/>
<g class="d" font-size="15" fill="#222">
<text x="385" y="1894">Sp-AL</text><text x="385" y="1917">GS-AL</text><text x="385" y="1940">CP-AL</text><text x="385" y="1962">FN-AL</text>
<text x="505" y="1894">Standard decoding</text><text x="505" y="1917">Draft length=4</text><text x="505" y="1940">Draft length=8</text><text x="505" y="1962">Draft length=16</text>
</g>
<path d="M325,1904h4M325,1956h4M325,2008h4M325,2060h4M349,2091v4M397.5,2091v4M446,2091v4M494.5,2091v4M543,2091v4M591.5,2091v4M640,2091v4M688.5,2091v4M737,2091v4" stroke="#222" stroke-width="1.2"/>
<g class="d" font-size="16" fill="#222">
<text x="322" y="1910" text-anchor="end">8</text><text x="322" y="1962" text-anchor="end">6</text><text x="322" y="2014" text-anchor="end">4</text><text x="322" y="2066" text-anchor="end">2</text>
<text y="2114" text-anchor="middle"><tspan x="349">0.50</tspan><tspan x="397.5">0.55</tspan><tspan x="446">0.60</tspan><tspan x="494.5">0.65</tspan><tspan x="543">0.70</tspan><tspan x="591.5">0.75</tspan><tspan x="640">0.80</tspan><tspan x="688.5">0.85</tspan><tspan x="737">0.90</tspan></text>
<text x="543" y="2138" text-anchor="middle" font-size="18">Acceptance ratio</text>
</g>
<text transform="translate(299,1980) rotate(-90)" class="d" font-size="18" fill="#222" text-anchor="middle">Speedup</text>
<text x="523" y="2163" font-size="19" class="bt" text-anchor="middle" textLength="284" lengthAdjust="spacingAndGlyphs">FLAN-T5-XL and T5-efficient-base</text>
</g>

<!-- Speedup chart 3 -->
<g transform="translate(1217,27) scale(1,0.9846)">
<path d="M329,2086H755" stroke="#ff1a1a" stroke-width="2" stroke-dasharray="5,3"/>
<polyline points="349,2065.2 397.5,2060 446,2053.5 494.5,2045.1 543,2034 591.5,2018.4 615.75,2008 640,1995 664.25,1978.3 688.5,1956 698.2,1944.9 707.9,1932 717.6,1917 727.3,1899.3 737,1878" fill="none" stroke="#c6c2bd" stroke-width="3.5" stroke-linejoin="round"/>
<polyline points="349,2071.7 397.5,2067.2 446,2061.6 494.5,2054.4 543,2044.8 591.5,2031.4 615.75,2022.4 640,2011.25 664.25,1996.9 688.5,1977.7 698.2,1968.1 707.9,1957 717.6,1944.1 727.3,1928.8 737,1910.5" fill="none" stroke="#8e8985" stroke-width="3.5" stroke-linejoin="round"/>
<polyline points="349,2080.3 397.5,2076.7 446,2072.35 494.5,2066.7 543,2059.1 591.5,2048.6 615.75,2041.5 640,2032.7 664.25,2021.4 688.5,2006.3 698.2,1998.7 707.9,1990 717.6,1979.8 727.3,1967.8 737,1953.4" fill="none" stroke="#2e2a28" stroke-width="3.5" stroke-linejoin="round"/>
<use href="#mO" x="494.5" y="2044"/><use href="#mO" x="592.5" y="2029"/><use href="#mO" x="630.3" y="2037"/>
<use href="#mR" x="511" y="2042"/><use href="#mR" x="621.6" y="2018"/><use href="#mR" x="663.3" y="2022"/>
<use href="#mP" x="562.4" y="2029"/><use href="#mP" x="678.8" y="1985"/><use href="#mP" x="730.2" y="1964"/>
<use href="#mG" x="613.8" y="2021"/><use href="#mG" x="669.1" y="2018"/><use href="#mG" x="512" y="2041"/>
<rect x="329" y="1867" width="426" height="224" fill="none" stroke="#222" stroke-width="1.5"/>
<rect x="338" y="1876" width="318" height="96" rx="4" fill="#fff" fill-opacity="0.85" stroke="#ddd"/>
<use href="#mR" x="358" y="1889"/><use href="#mO" x="358" y="1912"/><use href="#mP" x="358" y="1935"/><use href="#mG" x="358" y="1957"/>
<path d="M462,1889h33" stroke="#ff1a1a" stroke-width="2" stroke-dasharray="4,2"/>
<path d="M462,1912h33" stroke="#c6c2bd" stroke-width="4"/><path d="M462,1935h33" stroke="#8e8985" stroke-width="4"/><path d="M462,1957h33" stroke="#2e2a28" stroke-width="4"/>
<g class="d" font-size="15" fill="#222">
<text x="385" y="1894">Sp-AL</text><text x="385" y="1917">GS-AL</text><text x="385" y="1940">CP-AL</text><text x="385" y="1962">FN-AL</text>
<text x="505" y="1894">Standard decoding</text><text x="505" y="1917">Draft length=4</text><text x="505" y="1940">Draft length=8</text><text x="505" y="1962">Draft length=16</text>
</g>
<path d="M325,1904h4M325,1956h4M325,2008h4M325,2060h4M349,2091v4M397.5,2091v4M446,2091v4M494.5,2091v4M543,2091v4M591.5,2091v4M640,2091v4M688.5,2091v4M737,2091v4" stroke="#222" stroke-width="1.2"/>
<g class="d" font-size="16" fill="#222">
<text x="322" y="1910" text-anchor="end">8</text><text x="322" y="1962" text-anchor="end">6</text><text x="322" y="2014" text-anchor="end">4</text><text x="322" y="2066" text-anchor="end">2</text>
<text y="2114" text-anchor="middle"><tspan x="349">0.50</tspan><tspan x="397.5">0.55</tspan><tspan x="446">0.60</tspan><tspan x="494.5">0.65</tspan><tspan x="543">0.70</tspan><tspan x="591.5">0.75</tspan><tspan x="640">0.80</tspan><tspan x="688.5">0.85</tspan><tspan x="737">0.90</tspan></text>
<text x="543" y="2138" text-anchor="middle" font-size="18">Acceptance ratio</text>
</g>
<text transform="translate(299,1980) rotate(-90)" class="d" font-size="18" fill="#222" text-anchor="middle">Speedup</text>
<text x="537" y="2163" font-size="19" class="bt" text-anchor="middle" textLength="267" lengthAdjust="spacingAndGlyphs">FLAN-T5-XL and FLAN-T5-base</text>
</g>

<!-- ================= RIGHT PANEL ================= -->
<rect x="2204" y="448" width="1158" height="1736" rx="50" fill="#262626" stroke="#4a6db5" stroke-width="2"/>
<rect x="2217" y="557" width="1132" height="1617" rx="42" fill="#fff"/>
<text x="2789" y="515" font-size="44" fill="#fff" text-anchor="middle" textLength="805" lengthAdjust="spacingAndGlyphs">Public Decoding and Secure Verification</text>

<rect x="2363" y="617" width="775" height="402" fill="#d6dff1"/>
<rect x="2363" y="1138" width="775" height="242" fill="#fbe4d5"/>

<!-- computer icon -->
<g fill="#1a6fc4">
<rect x="2437" y="631" width="65" height="42" rx="3"/>
<rect x="2444" y="637" width="51" height="30" fill="#fff"/>
<rect x="2462" y="673" width="14" height="10"/>
<rect x="2450" y="682" width="40" height="7"/>
<rect x="2507" y="630" width="29" height="61" rx="3"/>
<rect x="2511" y="638" width="21" height="3" fill="#fff"/>
<rect x="2511" y="646" width="21" height="3" fill="#fff"/>
<circle cx="2521" cy="681" r="3" fill="#fff"/>
</g>

<!-- arrows -->
<g stroke="#000" stroke-width="2.5" fill="none">
<path d="M2486,710 V826" marker-end="url(#ab)"/>
<path d="M3017,733 V663 H2557" marker-end="url(#ab)"/>
<path d="M2584,874 H2625 M2625,776 V949"/>
<path d="M2625,776 H2914" marker-end="url(#ab)"/>
<path d="M2625,949 H2914" marker-end="url(#ab)"/>
<path d="M3017,907 V823" marker-end="url(#ab)"/>
<path d="M2486,1030 V921" marker-end="url(#ab)"/>
<path d="M3017,1155 V997" marker-end="url(#ab)" marker-start="url(#ab)"/>
<path d="M2919,1202 H2591" marker-end="url(#ab)"/>
<path d="M2486,1162 V1118" marker-end="url(#ab)"/>
<path d="M2486,1300 V1250" marker-end="url(#ab)"/>
<path d="M3017,1288 V1250" marker-end="url(#ab)"/>
</g>

<!-- boxes -->
<g fill="#fff" stroke="#000" stroke-width="3">
<rect x="2386" y="832" width="198" height="84" rx="12"/>
<rect x="2919" y="733" width="198" height="85" rx="12"/>
<rect x="2919" y="907" width="198" height="85" rx="12"/>
<rect x="2387" y="1162" width="198" height="83" rx="12"/>
<rect x="2919" y="1161" width="198" height="84" rx="12"/>
</g>
<use href="#lock" x="3072" y="744"/>
<use href="#lock" x="3072" y="915"/>
<g font-size="25" fill="#000" text-anchor="middle">
<text x="2485" y="868">Plaintext</text><text x="2485" y="899">Decoding</text>
<text x="3017" y="770">Secure</text><text x="3017" y="801">Verification</text>
<text x="3017" y="944">Secure</text><text x="3017" y="974">Forward</text>
<text x="2486" y="1198">Model</text><text x="2486" y="1228">Alignment</text>
<text x="3018" y="1196">Plaintext</text><text x="3018" y="1227">Decoding</text>
</g>

<!-- diagram labels -->
<text x="2554" y="646" font-size="24" fill="#1f70c1" textLength="484" lengthAdjust="spacingAndGlyphs">Accepted &amp; bonus tokens <tspan class="s">⟨[</tspan><tspan class="s" font-style="italic">x</tspan><tspan class="s" font-size="16" dy="5">1</tspan><tspan class="s" dy="-5">, …, </tspan><tspan class="s" font-style="italic">x</tspan><tspan class="s" font-size="16" font-style="italic" dy="5">k</tspan><tspan class="s" font-size="16">−1</tspan><tspan class="s" dy="-5">, </tspan><tspan class="s" font-style="italic">x</tspan><tspan class="s" font-size="16" font-style="italic" dy="5">k</tspan><tspan class="s" dy="-5">]⟩</tspan></text>
<text x="2758" y="713" font-size="24" fill="#1f70c1" text-anchor="middle" textLength="304" lengthAdjust="spacingAndGlyphs">Public model’s distributions</text>
<text x="2758" y="746" font-size="25" fill="#1f70c1" class="s" text-anchor="middle" textLength="292" lengthAdjust="spacingAndGlyphs">⟨[<tspan font-style="italic">q</tspan>(<tspan font-style="italic">x</tspan>|<tspan font-style="italic">x</tspan><tspan font-size="16" dy="5">&lt;t</tspan><tspan dy="-5">), …, </tspan><tspan font-style="italic">q</tspan>(<tspan font-style="italic">x</tspan>|<tspan font-style="italic">x</tspan><tspan font-size="16" dy="5">&lt;t+γ</tspan><tspan dy="-5">)]⟩</tspan></text>
<text x="2502" y="762" font-size="24" fill="#1f70c1">Prefix</text>
<text x="2533" y="796" font-size="25" fill="#1f70c1" class="s" text-anchor="middle"><tspan font-style="italic">x</tspan><tspan font-size="16" dy="5">&lt;t</tspan></text>
<text x="2368" y="790" font-size="24" fill="#000">Client</text>
<text x="2299" y="791" font-size="33" font-weight="bold" fill="#000" text-anchor="middle">Online</text>
<text x="2299" y="832" font-size="33" font-weight="bold" fill="#000" text-anchor="middle">Stage</text>
<text x="2299" y="1251" font-size="33" font-weight="bold" fill="#000" text-anchor="middle">Offline</text>
<text x="2299" y="1292" font-size="33" font-weight="bold" fill="#000" text-anchor="middle">Stage</text>

<text x="2728" y="857" font-size="24" fill="#c00000" text-anchor="middle">Private model’s</text>
<text x="2728" y="888" font-size="24" fill="#c00000" text-anchor="middle">distributions</text>
<path d="M2836,823 L2829,860 L2836,898 M2847,823 H2841 V898 H2847 M2986,823 H2992 V898 H2986 M3000,823 L3007,860 L3000,898" stroke="#c00000" stroke-width="1.8" fill="none"/>
<text x="2851" y="857" font-size="24" fill="#c00000" class="s"><tspan font-style="italic">p</tspan>(<tspan font-style="italic">x</tspan>|<tspan font-style="italic">x</tspan><tspan font-size="16" dy="5">&lt;t</tspan><tspan dy="-5">), …,</tspan></text>
<text x="2844" y="890" font-size="24" fill="#c00000" class="s"><tspan font-style="italic">p</tspan>(<tspan font-style="italic">x</tspan>|<tspan font-style="italic">x</tspan><tspan font-size="16" dy="5">&lt;t+γ+1</tspan><tspan dy="-5">)</tspan></text>

<text x="2760" y="972" font-size="24" fill="#1f70c1" text-anchor="middle">Draft tokens</text>
<text x="2760" y="1004" font-size="25" fill="#1f70c1" class="s" text-anchor="middle" textLength="146" lengthAdjust="spacingAndGlyphs">⟨[<tspan font-style="italic">x</tspan><tspan font-size="16" dy="5">t</tspan><tspan dy="-5">, …, </tspan><tspan font-style="italic">x</tspan><tspan font-size="16" dy="5">t+γ</tspan><tspan dy="-5">]⟩</tspan></text>

<use href="#nn" x="2486" y="1040" style="color:#6a9a3a"/>
<use href="#nn" x="3017" y="1040" style="color:#ffc000"/>
<use href="#nn" x="2486" y="1306" style="color:#6a9a3a"/>

<g font-size="24" fill="#6e9e3f" text-anchor="middle">
<text x="2619" y="1049">Aligned</text><text x="2619" y="1080">public model</text>
<text x="2619" y="1112" class="s" font-style="italic">ℳ′<tspan font-size="17" dy="5">pub</tspan></text>
</g>
<g font-size="24" fill="#ffc000" text-anchor="middle">
<text x="2902" y="1047">Private</text><text x="2902" y="1078">model</text>
<text x="2902" y="1111" class="s">⟨<tspan font-style="italic">ℳ</tspan><tspan font-size="17" font-style="italic" dy="5">pri</tspan><tspan dy="-5">⟩</tspan></text>
</g>
<text x="3067" y="1082" font-size="24" fill="#000">Server</text>
<text x="2765" y="1180" font-size="24" fill="#6e9e3f" text-anchor="middle">Alignment dataset <tspan class="s" font-style="italic">Q</tspan></text>
<text x="2538" y="1328" font-size="24" fill="#6e9e3f">Public model</text>
<text x="2610" y="1361" font-size="25" fill="#6e9e3f" class="s" font-style="italic" text-anchor="middle">ℳ<tspan font-size="17" dy="5">pub</tspan></text>
<text x="2896" y="1331" font-size="24" fill="#6e9e3f" text-anchor="middle">Non-sensitive</text>
<text x="2896" y="1362" font-size="24" fill="#6e9e3f" text-anchor="middle">dataset <tspan class="s" font-style="italic">S</tspan></text>

<!-- database -->
<g>
<rect x="2988" y="1305" width="59" height="68" fill="#6a9a3a"/>
<ellipse cx="3017.5" cy="1305" rx="29.5" ry="8" fill="#6a9a3a"/>
<ellipse cx="3017.5" cy="1373" rx="29.5" ry="8" fill="#6a9a3a"/>
<path d="M2988,1327 Q3017.5,1343 3047,1327 M2988,1350 Q3017.5,1366 3047,1350" stroke="#fff" stroke-width="3" fill="none"/>
<circle cx="3038" cy="1320" r="2.5" fill="#fff"/><circle cx="3038" cy="1343" r="2.5" fill="#fff"/><circle cx="3038" cy="1366" r="2.5" fill="#fff"/>
</g>

<!-- legend right -->
<rect x="3170" y="666" width="111" height="47" rx="8" fill="#fff" stroke="#000" stroke-width="3"/>
<use href="#lock" x="3252" y="672" transform="translate(3252,672) scale(0.62) translate(-3252,-672)"/>
<g font-size="25" text-anchor="middle">
<text x="3231" y="742" fill="#000">Secure</text><text x="3231" y="773" fill="#000">computation</text>
</g>
<rect x="3177" y="811" width="108" height="49" rx="6" fill="#6a9a3f"/>
<text x="3231" y="894" font-size="25" fill="#6e9e3f" text-anchor="middle">Public</text>
<rect x="3177" y="931" width="108" height="49" rx="6" fill="#1467c0"/>
<text x="3231" y="1015" font-size="25" fill="#1f70c1" text-anchor="middle">Private to the</text>
<text x="3231" y="1045" font-size="25" fill="#1f70c1" text-anchor="middle">client</text>
<rect x="3177" y="1083" width="108" height="49" rx="6" fill="#f7bd00"/>
<text x="3231" y="1166" font-size="25" fill="#ffc000" text-anchor="middle">Private to the</text>
<text x="3231" y="1197" font-size="25" fill="#ffc000" text-anchor="middle">server</text>
<rect x="3177" y="1219" width="108" height="49" rx="6" fill="#c00000"/>
<text x="3231" y="1302" font-size="25" fill="#c00000" text-anchor="middle">Private to all</text>

<!-- Online / Offline stage pills -->
<rect x="2275" y="1429" width="426" height="54" rx="26" fill="#595959"/>
<text x="2488" y="1465" font-size="29" fill="#fff" text-anchor="middle" textLength="155" lengthAdjust="spacingAndGlyphs">Online stage</text>
<rect x="2830" y="1429" width="438" height="54" rx="26" fill="#595959"/>
<text x="3049" y="1465" font-size="29" fill="#fff" text-anchor="middle" textLength="155" lengthAdjust="spacingAndGlyphs">Offline stage</text>

<g font-size="29" class="bt">
<text x="2288" y="1545" font-size="22">•</text>
<text x="2325" y="1545" textLength="293" lengthAdjust="spacingAndGlyphs">Speculative sampling to</text>
<text x="2325" y="1586" textLength="373" lengthAdjust="spacingAndGlyphs">increase the acceptance ratio.</text>
<text x="2288" y="1626" font-size="22" class="gr">•</text>
<text x="2325" y="1626" textLength="394" lengthAdjust="spacingAndGlyphs"><tspan class="gr">Unchanged quality</tspan> of generated</text>
<text x="2325" y="1666" textLength="338" lengthAdjust="spacingAndGlyphs">tokens (such as perplexity).</text>
<text x="2288" y="1707" font-size="22" class="gr">•</text>
<text x="2325" y="1707" textLength="338" lengthAdjust="spacingAndGlyphs"><tspan class="gr">Specialized optimization</tspan> for</text>
<text x="2325" y="1748" textLength="317" lengthAdjust="spacingAndGlyphs">secure sampling protocol.</text>

<text x="2836" y="1545" font-size="22">•</text>
<text x="2872" y="1545" textLength="298" lengthAdjust="spacingAndGlyphs">Knowledge distillation to</text>
<text x="2872" y="1586" textLength="373" lengthAdjust="spacingAndGlyphs">increase the acceptance ratio.</text>
<text x="2836" y="1626" font-size="22" class="gr">•</text>
<text x="2872" y="1626" textLength="383" lengthAdjust="spacingAndGlyphs"><tspan class="gr">No harm to client privacy</tspan> using</text>
<text x="2872" y="1666" textLength="272" lengthAdjust="spacingAndGlyphs">non-sensitive dataset.</text>
<text x="2836" y="1707" font-size="22" class="gr">•</text>
<text x="2872" y="1707" textLength="390" lengthAdjust="spacingAndGlyphs"><tspan class="gr">Quick</tspan> alignment within 1 million</text>
<text x="2872" y="1748">tokens.</text>
</g>

<rect x="2275" y="1788" width="993" height="55" rx="26" fill="#595959"/>
<text x="2771" y="1826" font-size="29" fill="#fff" text-anchor="middle" textLength="145" lengthAdjust="spacingAndGlyphs">Advantages</text>

<g font-size="29" class="bt">
<text x="2260" y="1895" font-size="22" class="gr">•</text>
<text x="2296" y="1895" textLength="934" lengthAdjust="spacingAndGlyphs"><tspan class="gr" font-weight="bold">Security Guarantees:</tspan> The client only receives the final response, while the</text>
<text x="2296" y="1937" textLength="699" lengthAdjust="spacingAndGlyphs">server remains unaware of the client's private input data.</text>
<text x="2260" y="1977" font-size="22" class="gr">•</text>
<text x="2296" y="1977" textLength="979" lengthAdjust="spacingAndGlyphs"><tspan class="gr" font-weight="bold">Accuracy Preservation:</tspan> The generated token guarantees no loss of accuracy.</text>
<text x="2260" y="2017" font-size="22" class="gr">•</text>
<text x="2296" y="2017" textLength="977" lengthAdjust="spacingAndGlyphs"><tspan class="gr" font-weight="bold">Practical Implementation:</tspan> The private model requires no changes and can be</text>
<text x="2296" y="2057" textLength="766" lengthAdjust="spacingAndGlyphs">seamlessly integrated with existing secure inference methods.</text>
<text x="2260" y="2098" font-size="22" class="gr">•</text>
<text x="2296" y="2098" textLength="921" lengthAdjust="spacingAndGlyphs"><tspan class="gr" font-weight="bold">Future Scalability:</tspan> The ongoing advancement of public model capabilities</text>
<text x="2296" y="2139" textLength="935" lengthAdjust="spacingAndGlyphs">ensures continuous improvement of acceptance ratio, and greater speedup.</text>
</g>
</svg>
</body></html>
